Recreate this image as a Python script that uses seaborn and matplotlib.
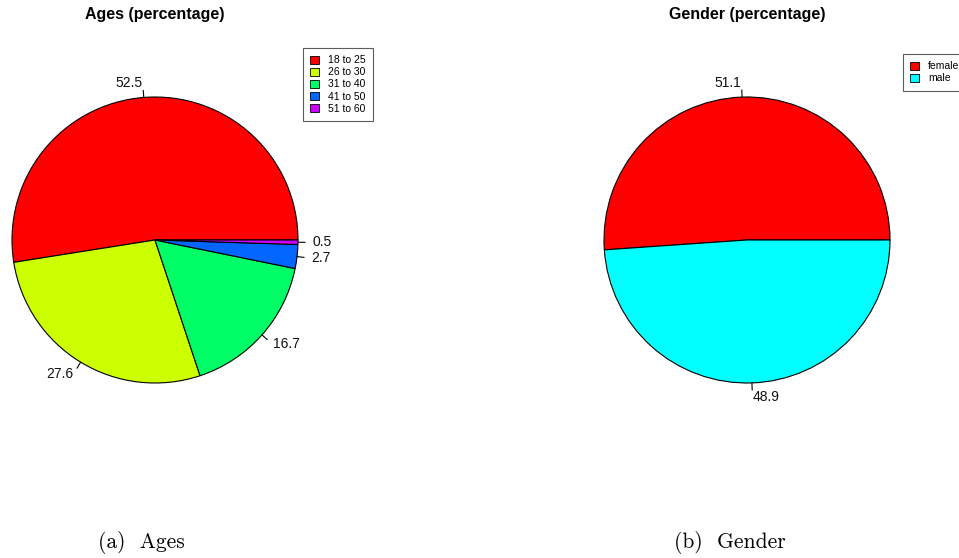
import matplotlib
matplotlib.use('Agg')
import matplotlib.pyplot as plt
from matplotlib.patches import Patch
import numpy as np
import seaborn as sns

# Data
age_labels = ['18 to 25', '26 to 30', '31 to 40', '41 to 50', '51 to 60']
age_values = [52.5, 27.6, 16.7, 2.7, 0.5]
age_colors = ['#FF0000', '#CCFF00', '#00FF66', '#0066FF', '#CC00FF']

gender_labels = ['female', 'male']
gender_values = [51.1, 48.9]
gender_colors = ['#FF0000', '#00FFFF']

sns.set_theme(style='white')
plt.rcParams['font.family'] = ['Liberation Sans', 'DejaVu Sans']
plt.rcParams['text.color'] = 'black'

W, H = 959, 558
fig = plt.figure(figsize=(W / 100, H / 100), dpi=100)
fig.patch.set_facecolor('white')


def r_pie(cx, cy, rad, values, colors, title):
    # axes placed so the unit-radius pie lands at (cx, cy) pixels
    lim = 1.25
    size = 2 * lim * rad
    ax = fig.add_axes([(cx - size / 2) / W, (H - cy - size / 2) / H, size / W, size / H])
    wedges, _ = ax.pie(values, colors=colors, startangle=0, counterclock=True,
                       wedgeprops=dict(edgecolor='black', linewidth=0.8))
    cum = np.cumsum([0] + list(values))
    for i, v in enumerate(values):
        mid = np.deg2rad(360 * (cum[i] + cum[i + 1]) / 2 / sum(values))
        c, s = np.cos(mid), np.sin(mid)
        ax.plot([c, 1.05 * c], [s, 1.05 * s], color='black', lw=0.8)
        ax.text(1.1 * c, 1.1 * s, f'{v}', ha='left' if c >= 0 else 'right',
                va='center', fontsize=10, color='#111111')
    ax.set_xlim(-lim, lim)
    ax.set_ylim(-lim, lim)
    ax.set_aspect('equal')
    ax.axis('off')
    fig.text(cx / W, 1 - 15 / H, title, ha='center', va='center',
             fontsize=11.5, fontweight='bold', color='black')
    return ax


r_pie(155, 240, 143, age_values, age_colors, 'Ages (percentage)')
r_pie(747, 240, 143, gender_values, gender_colors, 'Gender (percentage)')

# Legends
def r_legend(labels, colors, x, y):
    handles = [Patch(facecolor=c, edgecolor='black', linewidth=0.6) for c in colors]
    leg = fig.legend(handles, labels, loc='upper left', bbox_to_anchor=(x / W, 1 - y / H),
                     fontsize=7.5, frameon=True, fancybox=False, handlelength=0.8,
                     handleheight=0.8, handletextpad=0.9, labelspacing=0.2,
                     borderpad=0.7, borderaxespad=0)
    leg.get_frame().set_edgecolor('#333333')
    leg.get_frame().set_linewidth(0.8)


r_legend(age_labels, age_colors, 303, 48)
r_legend(gender_labels, gender_colors, 903, 54)

# Captions
fig.text(141 / W, 1 - 543 / H, '(a)  Ages', ha='center', va='center',
         fontsize=15.5, family='cmr10')
fig.text(730 / W, 1 - 543 / H, '(b)  Gender', ha='center', va='center',
         fontsize=15.5, family='cmr10')

fig.savefig('out.png', dpi=100)
